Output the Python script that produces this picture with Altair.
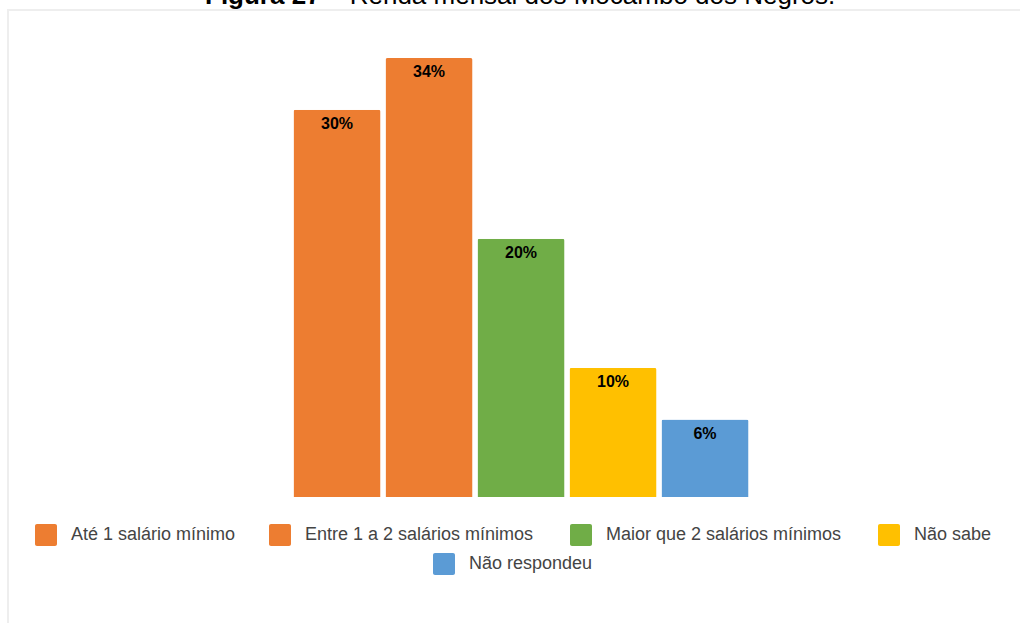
import altair as alt
import pandas as pd

# ---- data ----
categories = [
    "Até 1 salário mínimo",
    "Entre 1 a 2 salários mínimos",
    "Maior que 2 salários mínimos",
    "Não sabe",
    "Não respondeu",
]
values = [30, 34, 20, 10, 6]
labels = ["30%", "34%", "20%", "10%", "6%"]
colors = ["#ED7D31", "#ED7D31", "#70AD47", "#FFC000", "#5B9BD5"]

title_bold = "Figura 27"
title_rest = "– Renda mensal dos Mocambo dos Negros."

# ---- layout (pixels) ----
FONT = "Liberation Sans, Arial, sans-serif"
W, H = 1020, 623
PAD_L, PAD_T = 291, 58
PLOT_W, PLOT_H = 460, 439
legend_left = [35, 269, 570, 878, 433]   # swatch left edge (page px)
legend_row_y = [535, 535, 535, 535, 564]  # row centre (page px)
SW = 22

df = pd.DataFrame({"cat": categories, "value": values, "label": labels})
df["sx"] = [x - PAD_L for x in legend_left]
df["sx2"] = df["sx"] + SW
df["sy"] = [y - PAD_T - SW / 2 for y in legend_row_y]
df["sy2"] = df["sy"] + SW
df["tx"] = df["sx"] + SW + 14
df["ty"] = [y - PAD_T for y in legend_row_y]

color = alt.Color("cat:N", scale=alt.Scale(domain=categories, range=colors), legend=None)
xband = alt.X("cat:N", sort=categories, axis=None,
              scale=alt.Scale(paddingInner=0.054, paddingOuter=0.027))
yval = alt.Y("value:Q", axis=None, scale=alt.Scale(domain=[0, 34], nice=False))

base = alt.Chart(df)

bars = base.mark_bar(cornerRadiusTopLeft=2, cornerRadiusTopRight=2).encode(
    x=xband, y=yval, color=color
)
bar_text = base.mark_text(dy=14, baseline="middle", fontWeight="bold", fontSize=16,
                          font=FONT, color="#000000").encode(
    x=xband, y=yval, text="label:N"
)

leg_sw = base.mark_rect(cornerRadius=2).encode(
    x=alt.X("sx:Q", scale=None, axis=None), x2="sx2:Q",
    y=alt.Y("sy:Q", scale=None, axis=None), y2="sy2:Q",
    color=color,
)
leg_txt = base.mark_text(align="left", baseline="middle", fontSize=18, font=FONT,
                         color="#444444").encode(
    x=alt.X("tx:Q", scale=None, axis=None),
    y=alt.Y("ty:Q", scale=None, axis=None),
    text="cat:N",
)

frame_top = alt.Chart(pd.DataFrame({"a": [0]})).mark_rule(color="#eeeeee", strokeWidth=2).encode(
    x=alt.value(7 - PAD_L), x2=alt.value(W - PAD_L + 5), y=alt.value(10 - PAD_T)
)
frame_left = alt.Chart(pd.DataFrame({"a": [0]})).mark_rule(color="#eeeeee", strokeWidth=2).encode(
    x=alt.value(8 - PAD_L), y=alt.value(10 - PAD_T), y2=alt.value(H - PAD_T + 5)
)

t1 = alt.Chart(pd.DataFrame({"t": [title_bold]})).mark_text(
    align="left", baseline="alphabetic", fontSize=26, fontWeight="bold", font=FONT, color="#000000"
).encode(x=alt.value(205 - PAD_L), y=alt.value(4 - PAD_T), text="t:N")
t2 = alt.Chart(pd.DataFrame({"t": [title_rest]})).mark_text(
    align="left", baseline="alphabetic", fontSize=26, font=FONT, color="#000000"
).encode(x=alt.value(328 - PAD_L), y=alt.value(4 - PAD_T), text="t:N")

chart = alt.layer(
    frame_top, frame_left, bars, bar_text, leg_sw, leg_txt, t1, t2
).resolve_scale(
    x="independent", y="independent"
).properties(
    width=PLOT_W,
    height=PLOT_H,
    padding={"left": PAD_L, "top": PAD_T, "right": W - PAD_L - PLOT_W, "bottom": H - PAD_T - PLOT_H},
    autosize=alt.AutoSizeParams(type="none"),
    background="#ffffff",
).configure_view(stroke=None)

chart.save("out.html", embed_options={"renderer": "svg", "actions": False})
